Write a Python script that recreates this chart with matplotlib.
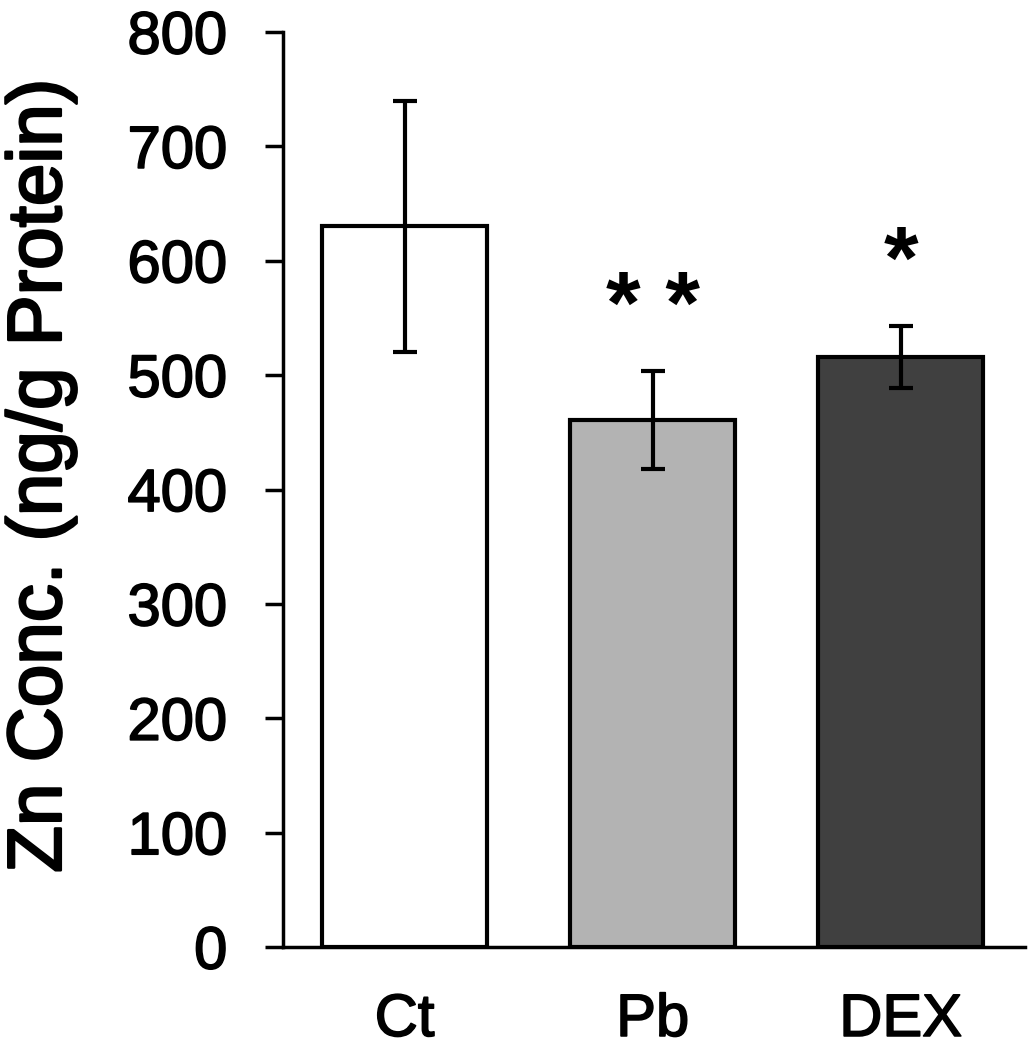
import matplotlib
matplotlib.use("Agg")
import matplotlib.pyplot as plt
import matplotlib.patheffects as pe

categories = ["Ct", "Pb", "DEX"]
means = [630, 461, 516]
errors = [110, 43, 27]
bar_colors = ["#ffffff", "#b3b3b3", "#404040"]
significance = ["", "* *", "*"]
yticks = [0, 100, 200, 300, 400, 500, 600, 700, 800]
ylabel = "Zn Conc. (ng/g Protein)"

plt.rcParams['font.family'] = ['Liberation Sans', 'DejaVu Sans']

thick = [pe.withStroke(linewidth=1.2, foreground="black")]

fig = plt.figure(figsize=(10.33, 10.5), dpi=100)
ax = fig.add_axes([0.274, 0.098, 0.718, 0.8715])

x = list(range(len(categories)))
ax.bar(x, means, width=0.665, color=bar_colors, edgecolor="black", linewidth=3, zorder=2)
ax.errorbar(x, means, yerr=errors, fmt="none", ecolor="black", elinewidth=3,
            capsize=8.3, capthick=3, zorder=3)

for xi, m, e, s in zip(x, means, errors, significance):
    if s:
        ax.text(xi, m + e + 33, s, ha="center", va="baseline",
                fontsize=64, fontweight="bold")

ax.set_xlim(-0.49, 2.5)
ax.set_ylim(0, 800)
ax.set_yticks(yticks)
ax.set_xticks(x)
ax.set_xticklabels(categories)
ax.tick_params(axis="y", direction="out", length=13, width=2.5, pad=27,
               labelsize=43)
ax.tick_params(axis="x", length=0, pad=33, labelsize=43)
for lab in ax.get_xticklabels() + ax.get_yticklabels():
    lab.set_path_effects(thick)

ax.spines["top"].set_visible(False)
ax.spines["right"].set_visible(False)
ax.spines["left"].set_linewidth(2.5)
ax.spines["bottom"].set_linewidth(2.5)

fig.text(0.04, 0.547, ylabel, rotation=90, ha="center", va="center",
         fontsize=55, path_effects=[pe.withStroke(linewidth=1.8, foreground="black")])

fig.savefig("out.png", dpi=100)
